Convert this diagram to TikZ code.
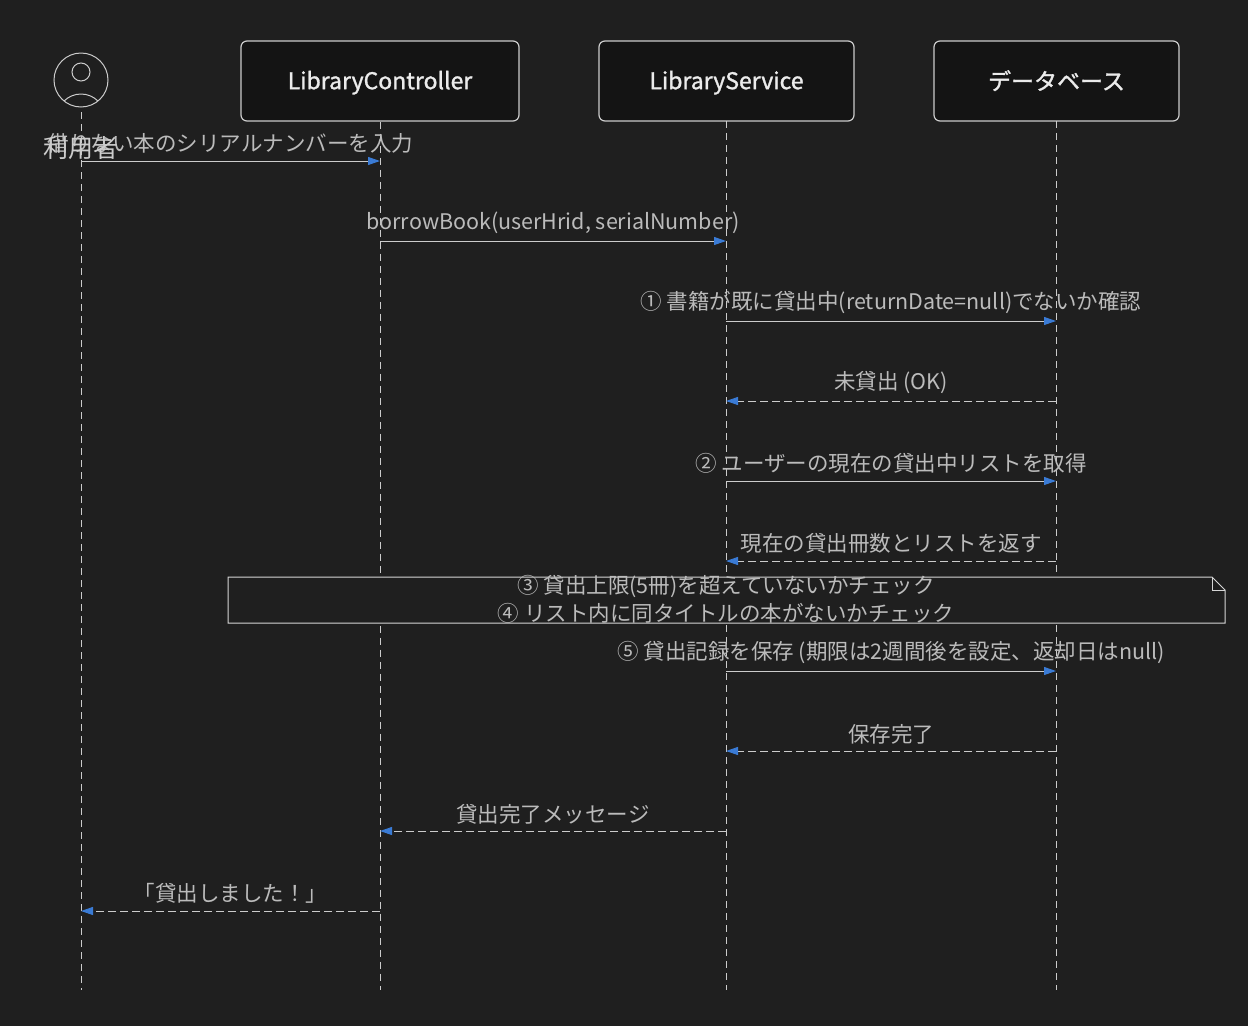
\documentclass[tikz,border=0pt]{standalone}
\usepackage{fontspec}
\setmainfont{Noto Sans CJK JP}
\newfontfamily\medfont[FakeBold=1.3]{Noto Sans CJK JP}
\usetikzlibrary{arrows.meta,calc}
\definecolor{bg}{HTML}{1F1F1F}
\definecolor{boxfill}{HTML}{141414}
\definecolor{ln}{HTML}{CCCCCC}
\definecolor{txt}{HTML}{BBBBBB}
\definecolor{tip}{HTML}{3A7BD5}
\begin{document}
\begin{tikzpicture}[x=1pt,y=-1pt,
  part/.style={draw=ln,fill=boxfill,rounded corners=6pt,line width=1.2pt,text=white!92!black,font=\medfont\fontsize{23}{26}\selectfont,minimum height=80pt,inner sep=0pt,text depth=2pt},
  life/.style={ln,dash pattern=on 7pt off 5pt,line width=0.9pt},
  msg/.style={ln,line width=1pt,-{Triangle[length=12pt,width=8pt,fill=tip,color=tip]}},
  ret/.style={msg,dash pattern=on 8pt off 4pt},
  lab/.style={text=txt,font=\fontsize{21.5}{24}\selectfont,inner sep=0pt,anchor=south}]
\fill[bg] (0,0) rectangle (1248,1026);
\useasboundingbox (0,0) rectangle (1248,1026);
% participants
\node[part,minimum width=278pt] (lc) at (380,81) {LibraryController};
\node[part,minimum width=255pt] (ls) at (726.5,81) {LibraryService};
\node[part,minimum width=245pt] (db) at (1056.5,81) {データベース};
\node[draw=ln,circle,line width=1pt,minimum size=54pt,inner sep=0pt] (u) at (81,80) {};
\draw[ln,line width=1pt] (81,72) circle (9);
\begin{scope}
\clip (81,80) circle (27);
\draw[ln,line width=1pt] (81,118) circle (24);
\end{scope}
\coordinate (ub) at (81,112);
\coordinate (ue) at (81,990);
\coordinate (lce) at (380,990);
\coordinate (lse) at (726,990);
\coordinate (dbe) at (1056,990);
\draw[life] (ub) -- (ue);
\draw[life] (lc.south) -- (lce);
\draw[life] (726,121) -- (lse);
\draw[life] (1056,121) -- (dbe);
% messages
\foreach \y/\a/\b/\s/\t in {
 161/81/380/msg/借りない本のシリアルナンバーを入力,
 241/380/726/msg/{borrowBook(userHrid, serialNumber)},
 321/726/1056/msg/{① 書籍が既に貸出中(returnDate=null)でないか確認},
 401/1056/726/ret/未貸出 (OK),
 481/726/1056/msg/② ユーザーの現在の貸出中リストを取得,
 561/1056/726/ret/現在の貸出冊数とリストを返す,
 671/726/1056/msg/{⑤ 貸出記録を保存 (期限は2週間後を設定、返却日はnull)},
 751/1056/726/ret/保存完了,
 831/726/380/ret/貸出完了メッセージ,
 911/380/81/ret/「貸出しました！」}{
  \coordinate (s\y) at (\a,\y);
  \coordinate (e\y) at (\b,\y);
  \draw[\s] (s\y) -- (e\y);
  \node[lab] at ($(s\y)!0.5!(e\y)+(0,-7)$) {\t};
}
\node[text=ln,font=\fontsize{25}{28}\selectfont] (ul) at (81,148) {利用者};
% note
\fill[bg] (228,577) rectangle (1225,623);
\draw[ln!80,line width=1pt] (228,577) -- (1212,577) -- (1225,590) -- (1225,623) -- (228,623) -- cycle;
\draw[ln!80,line width=1pt] (1212,577) -- (1212,590) -- (1225,590);
\node[text=txt,font=\fontsize{21.5}{28}\selectfont,align=center] (note) at (726,599) {③ 貸出上限(5冊)を超えていないかチェック\\④ リスト内に同タイトルの本がないかチェック};
\end{tikzpicture}
\end{document}
